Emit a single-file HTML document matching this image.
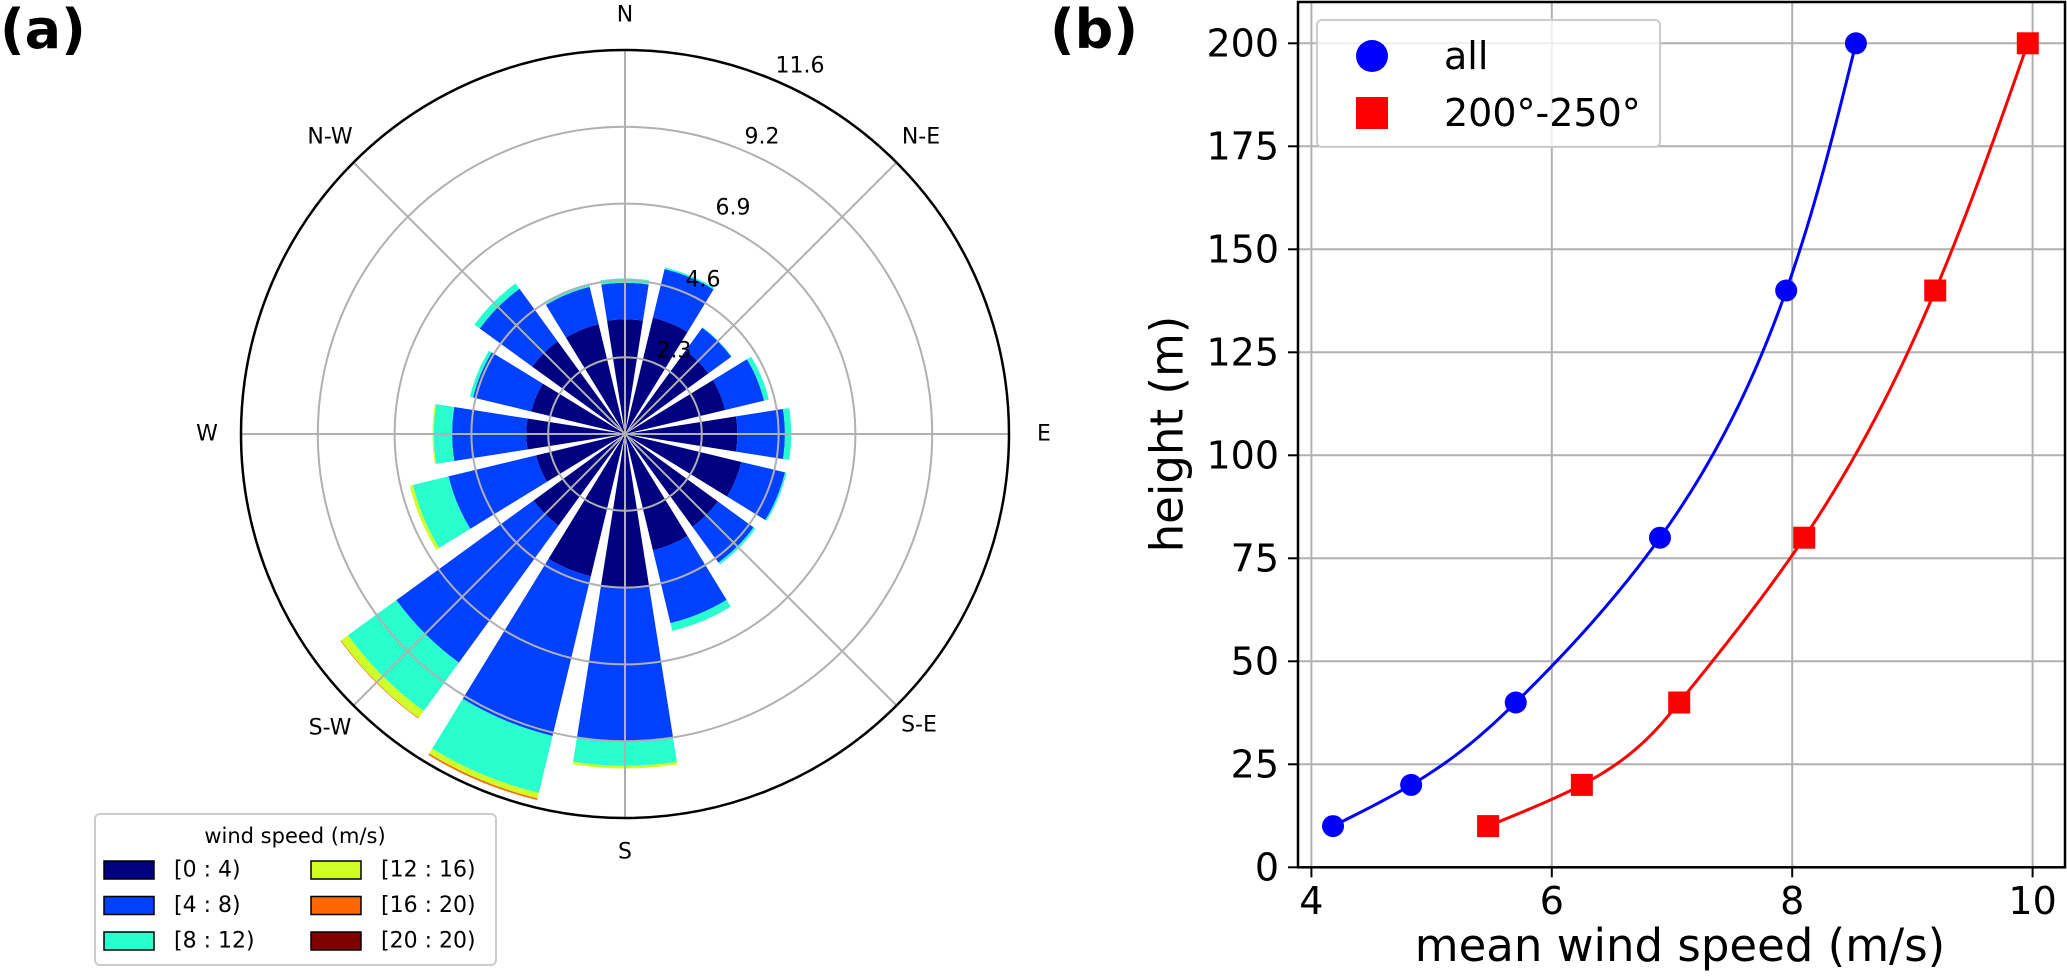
<!DOCTYPE html>
<html><head><meta charset="utf-8"><style>
html,body{margin:0;padding:0;background:#fff;}
svg{display:block;font-family:"DejaVu Sans","Liberation Sans",sans-serif;}
</style></head><body>
<svg id="fig" width="2067" height="980" viewBox="0 0 2067 980" xmlns="http://www.w3.org/2000/svg">
<text x="0" y="48" font-size="54" font-weight="bold">(a)</text>
<text x="1050" y="48" font-size="54" font-weight="bold">(b)</text>
<g id="rose"></g>
<g id="prof"></g>
</svg>
<script>
// ---- wind rose data ----
const dirLabels = ["N","NNE","NE","ENE","E","ESE","SE","SSE","S","SSW","SW","WSW","W","WNW","NW","NNW"];
const bin0 = [3.45,3.6,3.1,3.1,3.38,3.6,3.45,3.6,4.63,4.4,3.4,2.75,2.97,2.9,3.45,3.4];
const bin1 = [1.10,1.5,0.85,1.2,1.43,1.35,1.33,2.25,4.60,4.94,5.1,2.71,2.23,1.8,1.95,1.15];
const bin2 = [0.13,0.05,0.02,0.15,0.19,0.05,0.07,0.24,0.75,1.76,1.8,1.10,0.55,0.1,0.2,0.1];
const bin3 = [0,0,0,0,0,0,0,0,0.08,0.17,0.26,0.10,0.04,0,0,0];
const bin4 = [0,0,0,0,0,0,0,0,0,0.05,0.02,0,0,0,0,0];
const bin5 = [0,0,0,0,0,0,0,0,0,0,0,0,0,0,0,0];
const binLabels = ["[0 : 4)","[4 : 8)","[8 : 12)","[12 : 16)","[16 : 20)","[20 : 20)"];
const binColors = ["#000080","#0040ff","#29ffce","#ceff29","#ff6800","#800000"];
const rTicks = ["2.3","4.6","6.9","9.2","11.6"];
const rTickVals = [2.31,4.62,6.93,9.24,11.55];
// ---- profile data ----
const heights = [10,20,40,80,140,200];
const speedAll = [4.18,4.83,5.70,6.90,7.95,8.53];
const speedDir = [5.47,6.25,7.06,8.10,9.19,9.96];
const xTicks = [4,6,8,10];
const yTicks = [0,25,50,75,100,125,150,175,200];

const NS="http://www.w3.org/2000/svg";
function mk(tag,attrs,parent){const e=document.createElementNS(NS,tag);for(const k in attrs)e.setAttribute(k,attrs[k]);parent.appendChild(e);return e;}

// ---- rose ----
const rose=document.getElementById('rose');
const cx=625, cy=434, R=384, RMAX=11.55;
const rs=v=>v/RMAX*R;
function pt(r,deg){const a=deg*Math.PI/180;return [cx+r*Math.sin(a), cy-r*Math.cos(a)];}
function sector(r0,r1,a0,a1){
  const p1=pt(r0,a0),p2=pt(r1,a0),p3=pt(r1,a1),p4=pt(r0,a1);
  let d=`M${p1[0]},${p1[1]} L${p2[0]},${p2[1]} A${r1},${r1} 0 0 1 ${p3[0]},${p3[1]} L${p4[0]},${p4[1]}`;
  if(r0>0) d+=` A${r0},${r0} 0 0 0 ${p1[0]},${p1[1]}`;
  return d+'Z';
}
const bins=[bin0,bin1,bin2,bin3,bin4,bin5];
for(let i=0;i<dirLabels.length;i++){
  const th=i*22.5; let cum=0;
  for(let b=0;b<bins.length;b++){
    const v=bins[b][i]; if(v<=0){continue;}
    const p=mk('path',{d:sector(rs(cum),rs(cum+v),th-9,th+9),fill:binColors[b]},rose);
    
    
    cum+=v;
  }
}
// grid
rTickVals.slice(0,4).forEach((v,k)=>{
  const c=mk('circle',{cx:cx,cy:cy,r:rs(v),fill:'none',stroke:'#b0b0b0','stroke-width':2},rose);
  
  
});
for(let k=0;k<8;k++){
  const p=pt(R,k*45);
  const l=mk('line',{x1:cx,y1:cy,x2:p[0],y2:p[1],stroke:'#b0b0b0','stroke-width':2},rose);
  
  
}
const oc=mk('circle',{cx:cx,cy:cy,r:R,fill:'none',stroke:'#000','stroke-width':2.5},rose);


// r tick labels
rTicks.forEach((t,k)=>{
  const x=674+29*(4-k)*0+0; 
  const tx=[674,703,733,762,800][k], ty=[351,280,208,137,66][k];
  const e=mk('text',{x:tx,y:ty,'font-size':22,'text-anchor':'middle','dominant-baseline':'central'},rose);
  e.textContent=t;
  
  
});
const compass=[["N",625,15],["N-E",921,137],["E",1044,434],["S-E",919,725],["S",625,852],["S-W",330,728],["W",207,434],["N-W",330,137]];
compass.forEach(c=>{
  const e=mk('text',{x:c[1],y:c[2],'font-size':22,'text-anchor':'middle','dominant-baseline':'central'},rose);
  e.textContent=c[0];
  
  
});
// legend
const lg=mk('g',{},rose);


mk('rect',{x:95,y:814,width:401,height:151,rx:5,fill:'#fff',stroke:'#cccccc','stroke-width':2},lg);
const lt=mk('text',{x:295,y:836,'font-size':21,'text-anchor':'middle','dominant-baseline':'central'},lg);
lt.textContent='wind speed (m/s)';


binLabels.forEach((t,k)=>{
  const col=Math.floor(k/3), row=k%3;
  const px=[104,311][col], yy=870+row*35.5;
  const r=mk('rect',{x:px,y:yy-9,width:50,height:18,fill:binColors[k],stroke:'#000','stroke-width':1.5},lg);
  
  
  const e=mk('text',{x:px+70,y:yy,'font-size':22,'dominant-baseline':'central'},lg);
  e.textContent=t;
  
  
});

// ---- profile chart ----
const pr=document.getElementById('prof');
const L=1298, Rr=2065, T=2, B=867.3;
const X=v=>1311.4+(v-4)*120.2;
const Y=h=>B-h*4.12;
yTicks.forEach(h=>{
  const g=mk('line',{x1:L,x2:Rr,y1:Y(h),y2:Y(h),stroke:'#b0b0b0','stroke-width':2},pr);
  
  
  mk('line',{x1:L-10,x2:L,y1:Y(h),y2:Y(h),stroke:'#000','stroke-width':2},pr);
  const t=mk('text',{x:1279,y:Y(h),'font-size':38,'text-anchor':'end','dominant-baseline':'central'},pr);
  t.textContent=h;
  
  
});
xTicks.forEach(v=>{
  const g=mk('line',{x1:X(v),x2:X(v),y1:T,y2:B,stroke:'#b0b0b0','stroke-width':2},pr);
  
  
  mk('line',{x1:X(v),x2:X(v),y1:B,y2:B+10,stroke:'#000','stroke-width':2},pr);
  const t=mk('text',{x:X(v),y:914,'font-size':38,'text-anchor':'middle'},pr);
  t.textContent=v;
  
  
});
// natural cubic spline
function spline(xs,ys){
  const n=xs.length,h=[],al=[],l=[1],mu=[0],z=[0],c=new Array(n).fill(0),b=[],d=[];
  for(let i=0;i<n-1;i++)h[i]=xs[i+1]-xs[i];
  for(let i=1;i<n-1;i++)al[i]=3/h[i]*(ys[i+1]-ys[i])-3/h[i-1]*(ys[i]-ys[i-1]);
  for(let i=1;i<n-1;i++){l[i]=2*(xs[i+1]-xs[i-1])-h[i-1]*mu[i-1];mu[i]=h[i]/l[i];z[i]=(al[i]-h[i-1]*z[i-1])/l[i];}
  for(let j=n-2;j>=0;j--){c[j]=z[j]-mu[j]*c[j+1];b[j]=(ys[j+1]-ys[j])/h[j]-h[j]*(c[j+1]+2*c[j])/3;d[j]=(c[j+1]-c[j])/(3*h[j]);}
  return t=>{let j=0;while(j<n-2&&t>xs[j+1])j++;const u=t-xs[j];return ys[j]+b[j]*u+c[j]*u*u+d[j]*u*u*u;};
}
function curve(vals,color,name){
  const f=spline(heights,vals);let d='';
  const h0=heights[0],h1=heights[heights.length-1];
  for(let k=0;k<=200;k++){const h=h0+(h1-h0)*k/200;d+=(k?'L':'M')+X(f(h)).toFixed(2)+','+Y(h).toFixed(2);}
  const p=mk('path',{d:d,fill:'none',stroke:color,'stroke-width':3},pr);
  
  
}
curve(speedAll,'#0000ff','line-all');
curve(speedDir,'#ff0000','line-200-250');
heights.forEach((h,i)=>{
  const c=mk('circle',{cx:X(speedAll[i]),cy:Y(h),r:11,fill:'#0000ff'},pr);
  
  
  const s=mk('rect',{x:X(speedDir[i])-11,y:Y(h)-11,width:22,height:22,fill:'#ff0000'},pr);
  
  
});
const fr=mk('rect',{x:L,y:T,width:Rr-L,height:B-T,fill:'none',stroke:'#000','stroke-width':2.5},pr);


const xl=mk('text',{x:1680,y:961,'font-size':45,'text-anchor':'middle'},pr);
xl.textContent='mean wind speed (m/s)';


const yl=mk('text',{x:0,y:0,'font-size':45,'text-anchor':'middle','dominant-baseline':'central',transform:'translate(1167,434) rotate(-90)'},pr);
yl.textContent='height (m)';


// legend b
const lb=mk('g',{},pr);


mk('rect',{x:1317,y:20,width:343,height:127,rx:5,fill:'#fff','fill-opacity':0.8,stroke:'#cccccc','stroke-width':2},lb);
const m1=mk('circle',{cx:1372,cy:56,r:16,fill:'#0000ff'},lb);


const m2=mk('rect',{x:1356,y:97,width:32,height:32,fill:'#ff0000'},lb);


const t1=mk('text',{x:1444,y:56,'font-size':38,'dominant-baseline':'central'},lb);
t1.textContent='all';


const t2=mk('text',{x:1444,y:113,'font-size':38,'dominant-baseline':'central'},lb);
t2.textContent='200°-250°';


</script>
</body></html>
